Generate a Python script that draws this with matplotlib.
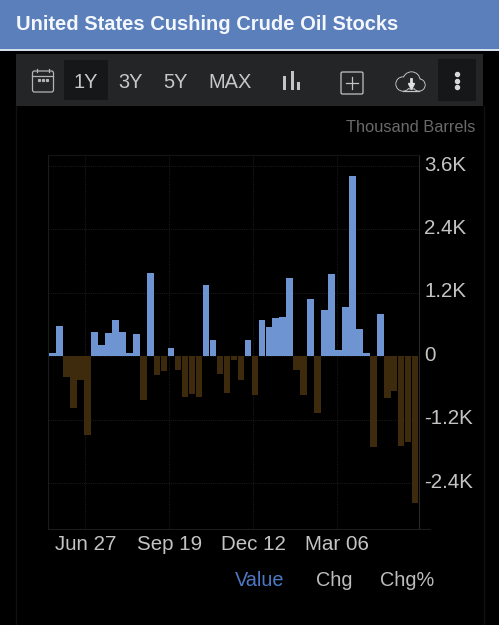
import numpy as np
from matplotlib import pyplot as plt
from matplotlib.patches import Rectangle, Circle, FancyBboxPatch
from matplotlib.transforms import ScaledTranslation

WIDTH = 499
HEIGHT = 625

# weekly change, thousand barrels
values = [69, 568, -392, -979, -455, -1484, 455, 221, 448, 688, 455, 69, 429,
          -834, 1579, -360, -284, 158, -259, -770, -714, -764, 1339, 303,
          -335, -695, -70, -455, 303, -739, 688, 549, 714, 739, 1484,
          -265, -739, 1074, -1080, 878, 1560, 114, 928, 3411, 518, 63,
          -1724, 808, -789, -663, -1705, -1617, -2785]
x_tick_bars = [4.7, 16.75, 28.8, 40.85]
x_tick_labels = ['Jun 27', 'Sep 19', 'Dec 12', 'Mar 06']
y_ticks = [3600, 2400, 1200, 0, -1200, -2400]
y_tick_labels = ['3.6K', '2.4K', '1.2K', '0', '-1.2K', '-2.4K']
range_buttons = ['1Y', '3Y', '5Y', 'MAX']
range_x = [86, 130.5, 176, 230]
tab_labels = ['Value', 'Chg', 'Chg%']
tab_x = [260, 334, 407]

BLUE = '#6f94d2'
BROWN = '#3e2b0e'
GRID = '#191919'
TEXT = '#c4c4c4'
PANEL = '#232527'
ICON = '#c4c4c4'

plt.rcParams['font.family'] = ['Liberation Sans', 'DejaVu Sans']

fig = plt.figure(figsize=(WIDTH / 100, HEIGHT / 100), dpi=100, facecolor='black')

# page furniture in pixel coordinates
bg = fig.add_axes([0, 0, 1, 1])
bg.set_xlim(0, WIDTH)
bg.set_ylim(HEIGHT, 0)
bg.axis('off')
bg.add_patch(Rectangle((0, 0), WIDTH, 49, color='#5b7fbb', lw=0))
bg.add_patch(Rectangle((0, 49), WIDTH, 1.5, color='#d5deec', lw=0))
bg.add_patch(Rectangle((16, 54), 467, 52, color=PANEL, lw=0))
bg.add_patch(Rectangle((64, 60), 44, 40, color='#161718', lw=0))
bg.add_patch(Rectangle((438, 59), 38, 42, color='#161718', lw=0))
bg.plot([16, 16], [106, 625], color='#101010', lw=1)
bg.plot([484, 484], [106, 625], color='#101010', lw=1)
bg.plot([418, 430], [529, 529], color='#1c1c1c', lw=0.8)
bg.text(16, 25, 'United States Cushing Crude Oil Stocks', color='#f4f7fb',
        fontsize=14.5, fontweight='bold', va='center')
bg.text(475, 128, 'Thousand Barrels', color='#6a6a6a', fontsize=11.8, ha='right',
        va='center')

for label, x in zip(range_buttons, range_x):
    bg.text(x, 82, label, color='#c8c8c8', fontsize=14.4, ha='center', va='center')

# calendar icon
bg.add_patch(FancyBboxPatch((32.5, 71), 21, 21, boxstyle='round,pad=0,rounding_size=2',
                            fc='none', ec='#b4b4b4', lw=0.9))
bg.plot([32.5, 53.5], [76, 76], color='#b4b4b4', lw=0.9)
bg.plot([37, 37], [68.5, 72], color='#b4b4b4', lw=0.9)
bg.plot([49, 49], [68.5, 72], color='#b4b4b4', lw=0.9)
bg.plot([39, 43, 47], [80, 80, 80], ls='none', marker='s', ms=1.3, color='#b4b4b4')
# bars icon
for x, top in zip([285, 292.3, 299], [75.7, 71, 81.7]):
    bg.add_patch(Rectangle((x - 1.5, top), 3, 89.5 - top, color=ICON, lw=0))
# add icon
bg.add_patch(FancyBboxPatch((341, 72), 22, 22, boxstyle='round,pad=0,rounding_size=1.5',
                            fc='none', ec=ICON, lw=0.9))
bg.plot([352, 352], [77, 89], color=ICON, lw=0.9)
bg.plot([346, 358], [83, 83], color=ICON, lw=0.9)
# download icon
cloud = [(403, 84, 7), (411.5, 80.5, 8.5), (419, 85, 6)]
for cx, cy, r in cloud:
    bg.add_patch(Circle((cx, cy), r, fc='none', ec=ICON, lw=0.9, zorder=3))
for cx, cy, r in cloud:
    bg.add_patch(Circle((cx, cy), r - 0.4, fc=PANEL, ec='none', zorder=4))
bg.plot([403, 419], [91, 91], color=ICON, lw=0.9, zorder=5)
bg.plot([411, 411], [79, 84], color='#e0e0e0', lw=2, zorder=5)
bg.plot([411], [85.5], marker='v', ms=5, color='#e0e0e0', zorder=5)
# menu dots
bg.plot([457, 457, 457], [74.3, 80.7, 87.3], ls='none', marker='o', ms=2.9, color='#d8d8d8')

for label, x in zip(tab_labels, tab_x):
    color = '#4d79c4' if label == 'Value' else '#bdbdbd'
    bg.text(x, 581, label, color=color, fontsize=14.3, ha='center', va='center')

# the chart itself, y limits set so 1.2K is 63.4 px
left, right, top, bottom = 47.5, 418.5, 155, 529
ax = fig.add_axes([left / WIDTH, 1 - bottom / HEIGHT, (right - left) / WIDTH,
                   (bottom - top) / HEIGHT], facecolor='none')
per_px = 1200 / 63.4
zero_y = 356.2
ax.set_ylim((zero_y - bottom) * per_px, (zero_y - top) * per_px)
pos = np.arange(len(values))
pitch = 6.97
ax.set_xlim((left - 52.7) / pitch, (right - 52.7) / pitch)

colors = [BLUE if v >= 0 else BROWN for v in values]
ax.bar(pos, values, width=0.93, color=colors, zorder=3)

ax.yaxis.tick_right()
ax.set_yticks(y_ticks, y_tick_labels)
ax.set_xticks(x_tick_bars, x_tick_labels)
ax.tick_params(axis='both', length=0, labelsize=14.8, labelcolor=TEXT)
ax.tick_params(axis='x', pad=4)
ax.tick_params(axis='y', pad=4)
ax.grid(True, color=GRID, lw=0.8, ls=(0, (1, 1)), zorder=0)
for spine in ax.spines.values():
    spine.set_color('#1c1c1c')
    spine.set_linewidth(0.8)
ax.spines['right'].set_color('#2a2a2a')
ax.spines['top'].set_color('#141414')

# labels sit a little above their gridlines
shift = ScaledTranslation(0, 3 / 100, fig.dpi_scale_trans)
for lab in ax.get_yticklabels():
    lab.set_transform(lab.get_transform() + shift)

fig.savefig('out.png', dpi=100, facecolor='black')
